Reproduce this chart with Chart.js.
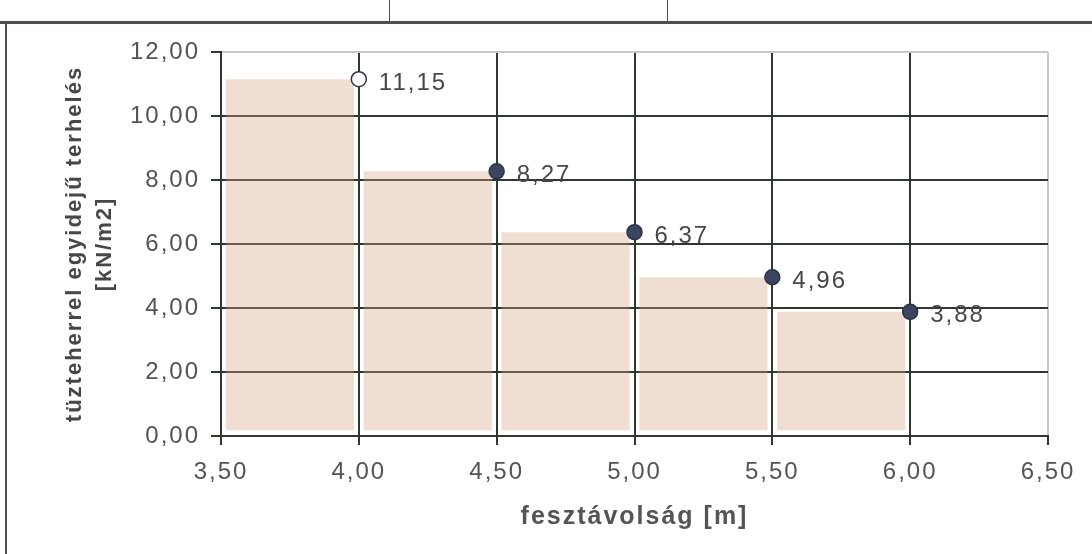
<!DOCTYPE html>
<html>
<head>
<meta charset="utf-8">
<script src="https://cdn.jsdelivr.net/npm/chart.js@4/dist/chart.umd.min.js"></script>
<style>
  html, body { margin: 0; padding: 0; background: #fff; }
  #wrap { position: relative; width: 1092px; height: 554px; overflow: hidden; }
  #myChart { position: absolute; left: 0; top: 0; }
  .line { position: absolute; background: #4a4f4a; }
</style>
</head>
<body>
<div id="wrap">
  <canvas id="myChart" width="1092" height="554"></canvas>
  <div class="line" style="left:0;top:21px;width:1092px;height:3px;"></div>
  <div class="line" style="left:5px;top:21px;width:2px;height:533px;"></div>
  <div class="line" style="left:389px;top:0;width:1px;height:22px;"></div>
  <div class="line" style="left:667px;top:0;width:1px;height:22px;"></div>
</div>
<script>
// span starts and ends of the steps [m]
var spanFrom = [3.5, 4.0, 4.5, 5.0, 5.5];
var spanTo = [4.0, 4.5, 5.0, 5.5, 6.0];
// load [kN/m2]
var loads = [11.15, 8.27, 6.37, 4.96, 3.88];

var gridDark = '#2f382f';
var gridLight = '#c9c9c9';
var textCol = '#545454';
var fam = '"Liberation Sans", Arial, sans-serif';

function comma(v) {
    return Number(v).toFixed(2).replace('.', ',');
}

var barData = spanFrom.map(function (a, i) {
    return { x: (a + spanTo[i]) / 2, y: loads[i] };
});
var pointData = spanTo.map(function (b, i) {
    return { x: b, y: loads[i] };
});

// the scanned text is spaced wider than normal
var spacing = {
    id: 'spacing',
    beforeUpdate: function (chart) { chart.ctx.letterSpacing = '2px'; },
    beforeDraw: function (chart) { chart.ctx.letterSpacing = '2px'; }
};

var pointLabels = {
    id: 'pointLabels',
    afterDatasetsDraw: function (chart) {
        var ctx = chart.ctx;
        var meta = chart.getDatasetMeta(1);
        ctx.save();
        ctx.font = '24px ' + fam;
        ctx.fillStyle = '#474747';
        ctx.textBaseline = 'middle';
        ctx.textAlign = 'left';
        meta.data.forEach(function (el, i) {
            ctx.fillText(comma(loads[i]), el.x + 20, el.y + 4);
        });
        ctx.restore();
    }
};

var ctx = document.getElementById('myChart').getContext('2d');
var chart = new Chart(ctx, {
    type: 'scatter',
    data: {
        datasets: [{
            type: 'bar',
            data: barData,
            base: 0.18,
            backgroundColor: 'rgba(215,160,130,0.35)',
            borderWidth: 0,
            barPercentage: 0.93,
            categoryPercentage: 1,
            order: 2
        }, {
            type: 'scatter',
            data: pointData,
            pointRadius: 7.5,
            pointBackgroundColor: ['#ffffff', '#3b4560', '#3b4560', '#3b4560', '#3b4560'],
            pointBorderColor: '#2b3346',
            pointBorderWidth: 1.5,
            order: 1
        }]
    },
    options: {
        responsive: false,
        animation: false,
        layout: { padding: { left: 0, top: 52, right: 44, bottom: 0 } },
        plugins: {
            legend: { display: false },
            tooltip: { enabled: false }
        },
        scales: {
            x: {
                type: 'linear',
                min: 3.5,
                max: 6.5,
                offset: false,
                afterFit: function (s) { s.height = 118; },
                ticks: {
                    stepSize: 0.5,
                    padding: 13,
                    color: textCol,
                    font: { family: fam, size: 24 },
                    callback: function (v) { return comma(v); }
                },
                grid: {
                    offset: false,
                    lineWidth: 2,
                    tickLength: 9,
                    tickColor: gridDark,
                    tickWidth: 2,
                    color: function (c) { return c.tick && c.tick.value === 6.5 ? gridLight : gridDark; }
                },
                border: { color: gridDark, width: 2 },
                title: {
                    display: true,
                    text: 'fesztávolság [m]',
                    color: textCol,
                    font: { family: fam, size: 25, weight: 'bold' },
                    padding: { top: 0, bottom: 22 }
                }
            },
            y: {
                min: 0,
                max: 12,
                afterFit: function (s) { s.width = 221; },
                ticks: {
                    stepSize: 2,
                    padding: 11,
                    color: textCol,
                    font: { family: fam, size: 24 },
                    callback: function (v) { return comma(v); }
                },
                grid: {
                    lineWidth: 2,
                    tickLength: 10,
                    tickColor: gridDark,
                    tickWidth: 2,
                    color: function (c) { return c.tick && c.tick.value === 12 ? gridLight : gridDark; }
                },
                border: { color: gridDark, width: 2 },
                title: {
                    display: true,
                    text: ['tüzteherrel egyidejű terhelés', '[kN/m2]'],
                    color: '#474747',
                    font: { family: fam, size: 22, weight: 'bold', lineHeight: 1.36 },
                    padding: { top: 60, bottom: 0 }
                }
            }
        }
    },
    plugins: [spacing, pointLabels]
});
</script>
</body>
</html>
